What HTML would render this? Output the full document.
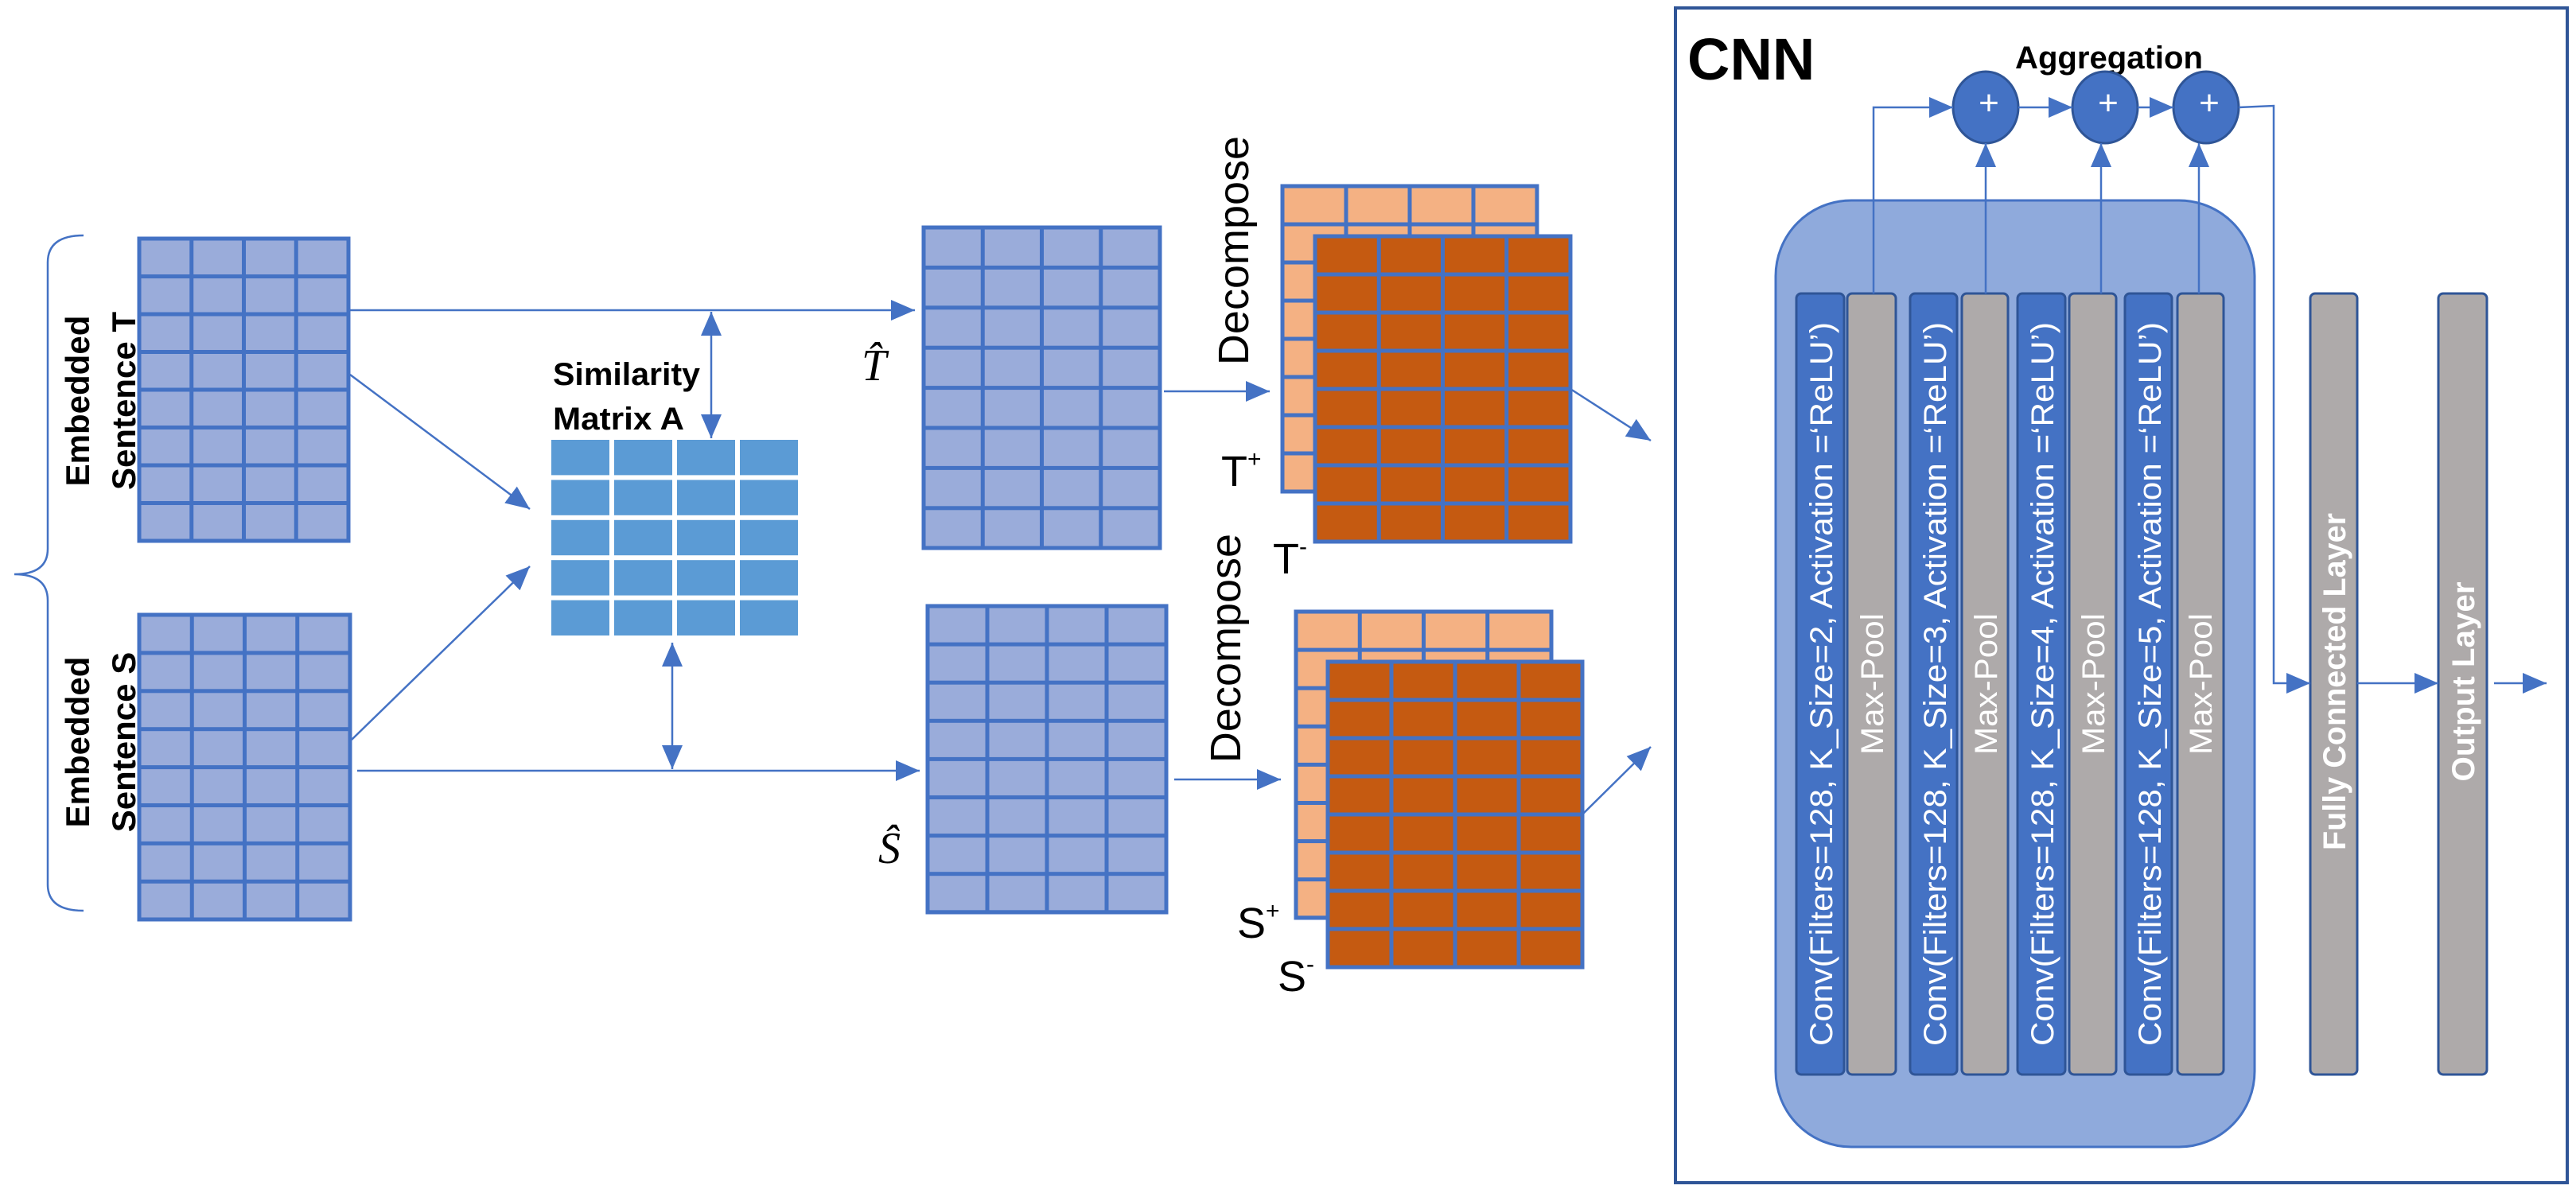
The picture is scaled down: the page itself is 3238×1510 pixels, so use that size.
<!DOCTYPE html>
<html><head><meta charset="utf-8"><style>html,body{margin:0;padding:0;background:#fff}svg{display:block}</style></head><body>
<svg width="3238" height="1510" viewBox="0 0 3238 1510" xmlns="http://www.w3.org/2000/svg" font-family="Liberation Sans, sans-serif">
<defs>
<marker id="ab" viewBox="0 0 10 10" refX="10" refY="5" markerWidth="30" markerHeight="26" markerUnits="userSpaceOnUse" orient="auto-start-reverse" preserveAspectRatio="none"><path d="M0,0L10,5L0,10z" fill="#4472c4"/></marker>
<pattern id="pT" patternUnits="userSpaceOnUse" x="175" y="300" width="65.75" height="47.5"><rect width="65.75" height="47.5" fill="#4472c4"/><rect x="2.5" y="2.5" width="60.75" height="42.5" fill="#9aacda"/></pattern>
<pattern id="pS" patternUnits="userSpaceOnUse" x="175" y="773" width="66.25" height="47.9"><rect width="66.25" height="47.9" fill="#4472c4"/><rect x="2.5" y="2.5" width="61.25" height="42.9" fill="#9aacda"/></pattern>
<pattern id="pA" patternUnits="userSpaceOnUse" x="690" y="550" width="79" height="50.4"><rect width="79" height="50.4" fill="#fff"/><rect x="3" y="3" width="73" height="44.4" fill="#5b9bd5"/></pattern>
<pattern id="pTh" patternUnits="userSpaceOnUse" x="1161" y="286" width="74.25" height="50.4"><rect width="74.25" height="50.4" fill="#4472c4"/><rect x="2.5" y="2.5" width="69.25" height="45.4" fill="#9aacda"/></pattern>
<pattern id="pSh" patternUnits="userSpaceOnUse" x="1166" y="762" width="75" height="48.1"><rect width="75" height="48.1" fill="#4472c4"/><rect x="2.5" y="2.5" width="70" height="43.1" fill="#9aacda"/></pattern>
<pattern id="pOT" patternUnits="userSpaceOnUse" x="1612" y="234" width="80" height="48"><rect width="80" height="48" fill="#4472c4"/><rect x="2.5" y="2.5" width="75" height="43" fill="#f4b183"/></pattern>
<pattern id="pDT" patternUnits="userSpaceOnUse" x="1653" y="297" width="80.25" height="48"><rect width="80.25" height="48" fill="#4472c4"/><rect x="2.5" y="2.5" width="75.25" height="43" fill="#c55a11"/></pattern>
<pattern id="pOS" patternUnits="userSpaceOnUse" x="1629" y="769" width="80.25" height="48.1"><rect width="80.25" height="48.1" fill="#4472c4"/><rect x="2.5" y="2.5" width="75.25" height="43.1" fill="#f4b183"/></pattern>
<pattern id="pDS" patternUnits="userSpaceOnUse" x="1669" y="832" width="80" height="48"><rect width="80" height="48" fill="#4472c4"/><rect x="2.5" y="2.5" width="75" height="43" fill="#c55a11"/></pattern>
</defs>

<path d="M105,296 Q60,296 60,330 L60,690 Q60,722 18,722 Q60,722 60,755 L60,1112 Q60,1145 105,1145" fill="none" stroke="#4472c4" stroke-width="2.5"/>

<g font-weight="bold" font-size="42" fill="#000" text-anchor="middle">
<text transform="translate(112,504) rotate(-90)">Embedded</text>
<text transform="translate(170,504) rotate(-90)">Sentence T</text>
<text transform="translate(112,933) rotate(-90)">Embedded</text>
<text transform="translate(170,933) rotate(-90)">Sentence S</text>
</g>

<rect x="175" y="300" width="263" height="380" fill="url(#pT)" stroke="#4472c4" stroke-width="5"/>
<rect x="175" y="773" width="265" height="383" fill="url(#pS)" stroke="#4472c4" stroke-width="5"/>
<rect x="693" y="553" width="313" height="248" fill="url(#pA)"/>
<rect x="1161" y="286" width="297" height="403" fill="url(#pTh)" stroke="#4472c4" stroke-width="5"/>
<rect x="1166" y="762" width="300" height="385" fill="url(#pSh)" stroke="#4472c4" stroke-width="5"/>
<rect x="1612" y="234" width="320" height="384" fill="url(#pOT)" stroke="#4472c4" stroke-width="5"/>
<rect x="1653" y="297" width="321" height="384" fill="url(#pDT)" stroke="#4472c4" stroke-width="5"/>
<rect x="1629" y="769" width="321" height="385" fill="url(#pOS)" stroke="#4472c4" stroke-width="5"/>
<rect x="1669" y="832" width="320" height="384" fill="url(#pDS)" stroke="#4472c4" stroke-width="5"/>

<g font-weight="bold" font-size="40" fill="#000">
<text x="695" y="484" textLength="185" lengthAdjust="spacingAndGlyphs">Similarity</text>
<text x="695" y="540" textLength="165" lengthAdjust="spacingAndGlyphs">Matrix A</text>
</g>

<g stroke="#4472c4" stroke-width="2.5" fill="none">
<line x1="440" y1="390" x2="1150" y2="390" marker-end="url(#ab)"/>
<line x1="894" y1="392" x2="894" y2="551" marker-start="url(#ab)" marker-end="url(#ab)"/>
<line x1="449" y1="969" x2="1156" y2="969" marker-end="url(#ab)"/>
<line x1="845" y1="808" x2="845" y2="967" marker-start="url(#ab)" marker-end="url(#ab)"/>
<line x1="440" y1="471" x2="666" y2="640" marker-end="url(#ab)"/>
<line x1="442" y1="930" x2="666" y2="712" marker-end="url(#ab)"/>
<line x1="1463" y1="492" x2="1596" y2="492" marker-end="url(#ab)"/>
<line x1="1476" y1="980" x2="1610" y2="980" marker-end="url(#ab)"/>
<line x1="1974" y1="489" x2="2075" y2="554" marker-end="url(#ab)"/>
<line x1="1989" y1="1024" x2="2075" y2="939" marker-end="url(#ab)"/>
</g>

<text x="1083" y="478" font-family="Liberation Serif, serif" font-style="italic" font-size="56">T̂</text>
<text x="1104" y="1085" font-family="Liberation Serif, serif" font-style="italic" font-size="56">Ŝ</text>

<g font-size="54" fill="#000" text-anchor="middle">
<text transform="translate(1569,315) rotate(-90)">Decompose</text>
<text transform="translate(1559,815) rotate(-90)">Decompose</text>
</g>
<g font-size="54" fill="#000">
<text x="1535" y="611">T<tspan font-size="30" dy="-24">+</tspan></text>
<text x="1600" y="721">T<tspan font-size="30" dy="-24">-</tspan></text>
<text x="1555" y="1179">S<tspan font-size="30" dy="-24">+</tspan></text>
<text x="1606" y="1246">S<tspan font-size="30" dy="-24">-</tspan></text>
</g>

<rect x="2106" y="10" width="1121" height="1477" fill="#fff" stroke="#2f5597" stroke-width="4"/>
<text x="2121" y="100" font-size="74" font-weight="bold" fill="#000">CNN</text>
<text x="2533" y="86" font-size="40" font-weight="bold" fill="#000" textLength="236" lengthAdjust="spacingAndGlyphs">Aggregation</text>

<rect x="2232" y="252" width="602" height="1190" rx="95" ry="95" fill="#8faadc" stroke="#4472c4" stroke-width="3"/>

<g stroke="#2f5597" stroke-width="3">
<rect x="2258" y="369" width="60" height="982" rx="6" fill="#4472c4"/>
<rect x="2322" y="369" width="61" height="982" rx="6" fill="#aeaaaa"/>
<rect x="2401" y="369" width="59" height="982" rx="6" fill="#4472c4"/>
<rect x="2466" y="369" width="58" height="982" rx="6" fill="#aeaaaa"/>
<rect x="2536" y="369" width="60" height="982" rx="6" fill="#4472c4"/>
<rect x="2601" y="369" width="59" height="982" rx="6" fill="#aeaaaa"/>
<rect x="2671" y="369" width="59" height="982" rx="6" fill="#4472c4"/>
<rect x="2737" y="369" width="58" height="982" rx="6" fill="#aeaaaa"/>
<rect x="2904" y="369" width="59" height="982" rx="6" fill="#aeaaaa"/>
<rect x="3065" y="369" width="61" height="982" rx="6" fill="#aeaaaa"/>
</g>

<g fill="#fff" font-size="40">
<text transform="translate(2303,1315) rotate(-90)" textLength="910" lengthAdjust="spacingAndGlyphs">Conv(Filters=128, K_Size=2, Activation =‘ReLU’)</text>
<text transform="translate(2446,1315) rotate(-90)" textLength="910" lengthAdjust="spacingAndGlyphs">Conv(Filters=128, K_Size=3, Activation =‘ReLU’)</text>
<text transform="translate(2581,1315) rotate(-90)" textLength="910" lengthAdjust="spacingAndGlyphs">Conv(Filters=128, K_Size=4, Activation =‘ReLU’)</text>
<text transform="translate(2716,1315) rotate(-90)" textLength="910" lengthAdjust="spacingAndGlyphs">Conv(Filters=128, K_Size=5, Activation =‘ReLU’)</text>
</g>
<g fill="#fff" font-size="40" text-anchor="middle">
<text transform="translate(2367,860) rotate(-90)" textLength="178" lengthAdjust="spacingAndGlyphs">Max-Pool</text>
<text transform="translate(2510,860) rotate(-90)" textLength="178" lengthAdjust="spacingAndGlyphs">Max-Pool</text>
<text transform="translate(2645,860) rotate(-90)" textLength="178" lengthAdjust="spacingAndGlyphs">Max-Pool</text>
<text transform="translate(2780,860) rotate(-90)" textLength="178" lengthAdjust="spacingAndGlyphs">Max-Pool</text>
<text transform="translate(2948,857) rotate(-90)" font-weight="bold" textLength="424" lengthAdjust="spacingAndGlyphs">Fully Connected Layer</text>
<text transform="translate(3110,857) rotate(-90)" font-weight="bold" textLength="251" lengthAdjust="spacingAndGlyphs">Output Layer</text>
</g>

<g fill="#4472c4" stroke="#2f5597" stroke-width="3">
<ellipse cx="2496" cy="135" rx="41" ry="45"/>
<ellipse cx="2646" cy="135" rx="41" ry="45"/>
<ellipse cx="2773" cy="135" rx="41" ry="45"/>
</g>
<g fill="#fff" font-size="44" text-anchor="middle">
<text x="2500" y="144">+</text><text x="2650" y="144">+</text><text x="2777" y="144">+</text>
</g>

<g stroke="#4472c4" stroke-width="2.5" fill="none">
<polyline points="2355,369 2355,135 2455,135" marker-end="url(#ab)"/>
<line x1="2537" y1="135" x2="2605" y2="135" marker-end="url(#ab)"/>
<line x1="2687" y1="135" x2="2732" y2="135" marker-end="url(#ab)"/>
<line x1="2496" y1="369" x2="2496" y2="180" marker-end="url(#ab)"/>
<line x1="2641" y1="369" x2="2641" y2="180" marker-end="url(#ab)"/>
<line x1="2764" y1="369" x2="2764" y2="180" marker-end="url(#ab)"/>
<polyline points="2814,135 2858,133 2858,859 2904,859" marker-end="url(#ab)"/>
<line x1="2963" y1="859" x2="3065" y2="859" marker-end="url(#ab)"/>
<line x1="3135" y1="859" x2="3201" y2="859" marker-end="url(#ab)"/>
</g>
</svg>
</body></html>
